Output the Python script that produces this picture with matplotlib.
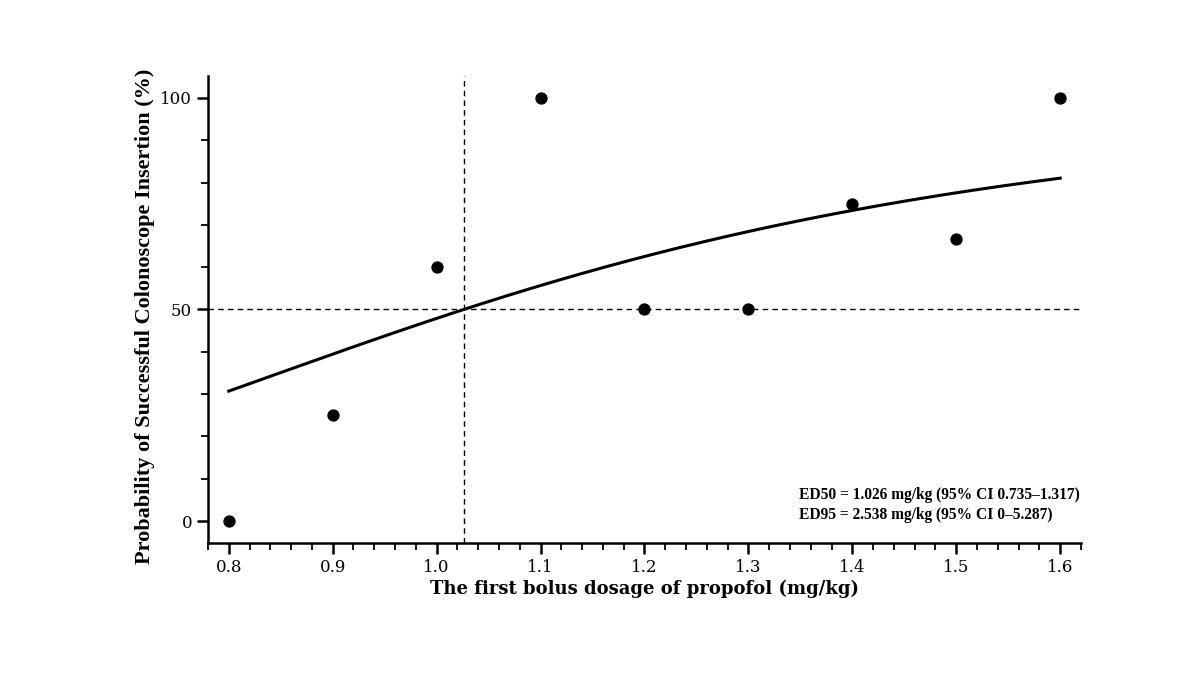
import numpy as np
import matplotlib.pyplot as plt
from matplotlib.ticker import MultipleLocator

# observed success rate at each dose
dose = [0.8, 0.9, 1.0, 1.1, 1.2, 1.3, 1.4, 1.5, 1.6]
success = [0, 25, 60, 100, 50, 50, 75, 66.7, 100]

# fitted logistic model (log dose)
ed50 = 1.026
slope = 3.27
ann_lines = ["ED50 = 1.026 mg/kg (95% CI 0.735\u20131.317)",
             "ED95 = 2.538 mg/kg (95% CI 0\u20135.287)"]

fig = plt.figure(figsize=(12, 6.75), dpi=100)
ax = fig.add_axes([208 / 1200, 1 - 543 / 675, (1081 - 208) / 1200, (543 - 76) / 675])

xs = np.linspace(min(dose), max(dose), 200)
fit = 100 / (1 + np.exp(-slope * np.log(xs / ed50)))
ax.plot(xs, fit, color='black', lw=2.2, zorder=3)
ax.scatter(dose, success, s=62, color='black', zorder=4)

ax.axvline(ed50, color='black', lw=1, dashes=(4, 3), zorder=2)
ax.axhline(50, color='black', lw=1, dashes=(4, 3), zorder=2)

ax.set_xlim(0.78, 1.62)
ax.set_ylim(-5.2, 105.2)
ax.set_xticks([0.8, 0.9, 1.0, 1.1, 1.2, 1.3, 1.4, 1.5, 1.6])
ax.set_yticks([0, 50, 100])
ax.xaxis.set_minor_locator(MultipleLocator(0.02))
ax.yaxis.set_minor_locator(MultipleLocator(10))

for side in ['top', 'right']:
    ax.spines[side].set_visible(False)
for side in ['left', 'bottom']:
    ax.spines[side].set_linewidth(1.8)
ax.tick_params(which='major', length=8, width=1.8, labelsize=12)
ax.tick_params(which='minor', length=5, width=1.3)
for lab in ax.get_xticklabels() + ax.get_yticklabels():
    lab.set_family('DejaVu Serif')

ax.set_xlabel('The first bolus dosage of propofol (mg/kg)', family='DejaVu Serif',
              fontweight='bold', fontsize=13, labelpad=3)
ax.set_ylabel('Probability of Successful Colonoscope Insertion (%)', family='Liberation Serif',
              fontweight='bold', fontsize=16, labelpad=3)
ax.yaxis.set_label_coords(-0.061, 0.486)

ax.text(0.998, 0.081, "\n".join(ann_lines), transform=ax.transAxes, ha='right', va='center',
        multialignment='left', family='Liberation Serif', fontweight='bold', fontsize=11.2,
        linespacing=1.35)

fig.savefig('out.png', dpi=100)
